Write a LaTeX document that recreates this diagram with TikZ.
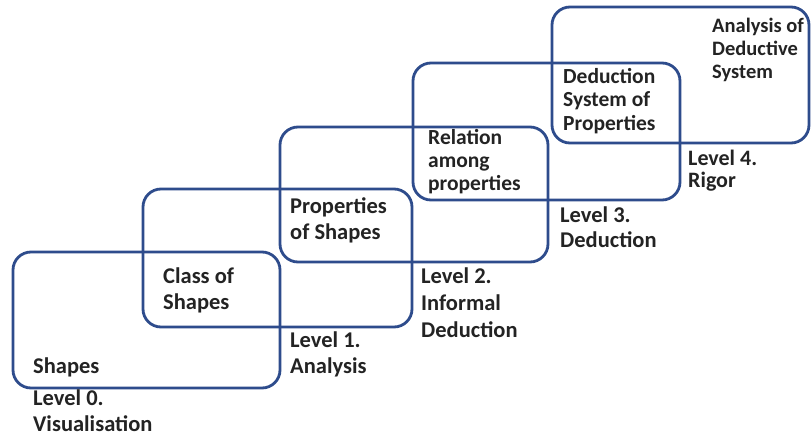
\documentclass[tikz,border=0pt]{standalone}
\usepackage{fontspec}
\setmainfont{Carlito}
\definecolor{boxblue}{RGB}{46,76,140}
\definecolor{txt}{RGB}{35,35,35}
\begin{document}
\begin{tikzpicture}[x=1pt,y=-1pt,
  levelbox/.style={draw=boxblue, line width=2.8pt, rounded corners=18pt},
  lbl/.style={anchor=base west, inner sep=0pt, align=left, text=txt,
    font=\bfseries\fontsize{22.5}{26}\selectfont}]
\useasboundingbox (0,0) rectangle (812,437);
\fill[white] (0,0) rectangle (812,437);
\draw[levelbox] (13,252) rectangle (280,388) coordinate (b0);
\draw[levelbox] (143,189) rectangle (412,327) coordinate (b1);
\draw[levelbox] (280,127) rectangle (548,262) coordinate (b2);
\draw[levelbox] (413,63) rectangle (680,200) coordinate (b3);
\draw[levelbox] (552,7) rectangle (809,143) coordinate (b4);
% base west = baseline of the last line
\node[lbl] (t0) at (33,373) {Shapes};
\node[lbl] (l0) at (33,431) {Level 0.\\Visualisation};
\node[lbl] (t1) at (163,309) {Class of\\Shapes};
\node[lbl] (l1) at (290,373) {Level 1.\\Analysis};
\node[lbl] (t2) at (290,239) {Properties\\of Shapes};
\node[lbl, font=\bfseries\fontsize{22.5}{27}\selectfont] (l2) at (421,337) {Level 2.\\Informal\\Deduction};
\node[lbl, font=\bfseries\fontsize{21.5}{23}\selectfont] (t3) at (428,190) {Relation\\among\\properties};
\node[lbl, font=\bfseries\fontsize{22.5}{25}\selectfont] (l3) at (560,247) {Level 3.\\Deduction};
\node[lbl, font=\bfseries\fontsize{21.5}{23.5}\selectfont] (t4) at (563,130) {Deduction\\System of\\Properties};
\node[lbl, font=\bfseries\fontsize{22}{22}\selectfont] (l4) at (688,187) {Level 4.\\Rigor};
\node[lbl, font=\bfseries\fontsize{20.5}{23}\selectfont] (t5) at (712,78) {Analysis of\\Deductive\\System};
\end{tikzpicture}
\end{document}
